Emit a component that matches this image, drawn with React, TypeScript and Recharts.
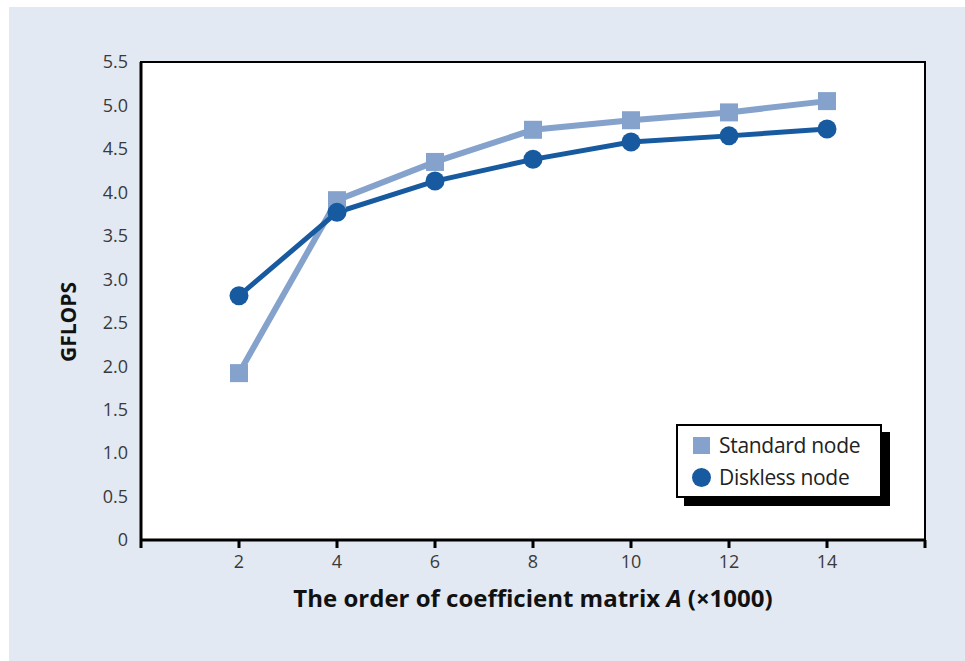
import { LineChart, Line, XAxis, YAxis, CartesianGrid, ReferenceArea, Label } from "recharts";

const orders = [2, 4, 6, 8, 10, 12, 14];
const standardNode = [1.92, 3.91, 4.35, 4.72, 4.83, 4.92, 5.05];
const disklessNode = [2.81, 3.77, 4.13, 4.38, 4.58, 4.65, 4.73];
const xTicks = [0, 2, 4, 6, 8, 10, 12, 14, 16];
const yTicks = [0, 0.5, 1, 1.5, 2, 2.5, 3, 3.5, 4, 4.5, 5, 5.5];
const seriesNames = ["Standard node", "Diskless node"];

const STANDARD = "#84a2cc";
const DISKLESS = "#175a9f";
const FONT = "'Open Sans', sans-serif";

const data = orders.map((x, i) => ({ x, standard: standardNode[i], diskless: disklessNode[i] }));

const SquareDot = (props: any) => {
    const { cx, cy, index } = props;
    return <rect key={`sq-${index}`} x={cx - 9} y={cy - 9} width={18} height={18} fill={STANDARD} />;
};

const CircleDot = (props: any) => {
    const { cx, cy, index } = props;
    return <circle key={`ci-${index}`} cx={cx} cy={cy} r={9.5} fill={DISKLESS} />;
};

const XTitle = (props: any) => {
    const { viewBox } = props;
    const cx = viewBox.x + viewBox.width / 2;
    return (
        <text x={cx} y={viewBox.y + 67} textAnchor="middle" fontFamily={FONT} fontSize={24} fontWeight={700} fill="#111">
            The order of coefficient matrix <tspan fontStyle="italic">A</tspan> (×1000)
        </text>
    );
};

const YTitle = (props: any) => {
    const { viewBox } = props;
    const cx = viewBox.x - 23;
    const cy = viewBox.y + viewBox.height / 2 + 21;
    return (
        <text x={cx} y={cy} transform={`rotate(-90 ${cx} ${cy})`} textAnchor="middle" dominantBaseline="central"
            fontFamily={FONT} fontSize={21} fontWeight={700} fill="#111">
            GFLOPS
        </text>
    );
};

const LegendBox = () => (
    <div style={{
        position: "absolute", left: 676, top: 424, width: 202, height: 70,
        background: "#fff", border: "2px solid #000", boxShadow: "8px 8px 0 #000",
        fontFamily: FONT, fontSize: 21, color: "#222"
    }}>
        {seriesNames.map((name, i) => (
            <div key={name} style={{ display: "flex", alignItems: "center", height: 30, marginTop: i === 0 ? 4 : 2, paddingLeft: 15 }}>
                {i === 0
                    ? <span style={{ width: 17, height: 17, background: STANDARD, display: "inline-block" }} />
                    : <span style={{ width: 19, height: 19, borderRadius: "50%", background: DISKLESS, display: "inline-block", marginLeft: -1 }} />}
                <span style={{ marginLeft: i === 0 ? 9 : 8, letterSpacing: -0.3 }}>{name}</span>
            </div>
        ))}
    </div>
);

export default function App() {
    return (
        <div style={{ position: "absolute", left: 0, top: 0, width: 965, height: 661, background: "#fff", overflow: "hidden" }}>
            <div style={{ position: "absolute", left: 9, top: 7, right: 0, bottom: 0, background: "#e2e9f2" }} />
            <div style={{ position: "absolute", left: 0, top: 0 }}>
                <LineChart width={965} height={661} data={data} margin={{ top: 62, right: 40, bottom: 91, left: 91 }}>
                    <ReferenceArea x1={0} x2={16} y1={0} y2={5.5} fill="#fff" fillOpacity={1} stroke="none" />
                    <CartesianGrid stroke="#c8c8c8" strokeWidth={1.5} verticalValues={[2, 4, 6, 8, 10, 12, 14]} />
                    <XAxis
                        dataKey="x"
                        type="number"
                        domain={[0, 16]}
                        ticks={xTicks}
                        interval={0}
                        height={30}
                        axisLine={{ stroke: "#000", strokeWidth: 3 }}
                        tickLine={{ stroke: "#000", strokeWidth: 3 }}
                        tickSize={8}
                        tickMargin={7}
                        tickFormatter={(v: number) => (v === 0 || v === 16 ? "" : String(v))}
                        tick={{ fill: "#3a3a3a", fontSize: 18, fontFamily: FONT }}
                    >
                        <Label content={<XTitle />} />
                    </XAxis>
                    <YAxis
                        type="number"
                        domain={[0, 5.5]}
                        ticks={yTicks}
                        interval={0}
                        width={50}
                        axisLine={{ stroke: "#000", strokeWidth: 3 }}
                        tickLine={false}
                        tickMargin={7}
                        tickFormatter={(v: number) => (v === 0 ? "0" : v.toFixed(1))}
                        tick={{ fill: "#3a3a3a", fontSize: 18, fontFamily: FONT }}
                    >
                        <Label content={<YTitle />} />
                    </YAxis>
                    <ReferenceArea x1={0} x2={16} y1={0} y2={5.5} fill="none" stroke="#000" strokeWidth={2} />
                    <Line dataKey="standard" name={seriesNames[0]} stroke={STANDARD} strokeWidth={6} dot={SquareDot} activeDot={false} isAnimationActive={false} />
                    <Line dataKey="diskless" name={seriesNames[1]} stroke={DISKLESS} strokeWidth={5} dot={CircleDot} activeDot={false} isAnimationActive={false} />
                </LineChart>
            </div>
            <LegendBox />
        </div>
    );
}
